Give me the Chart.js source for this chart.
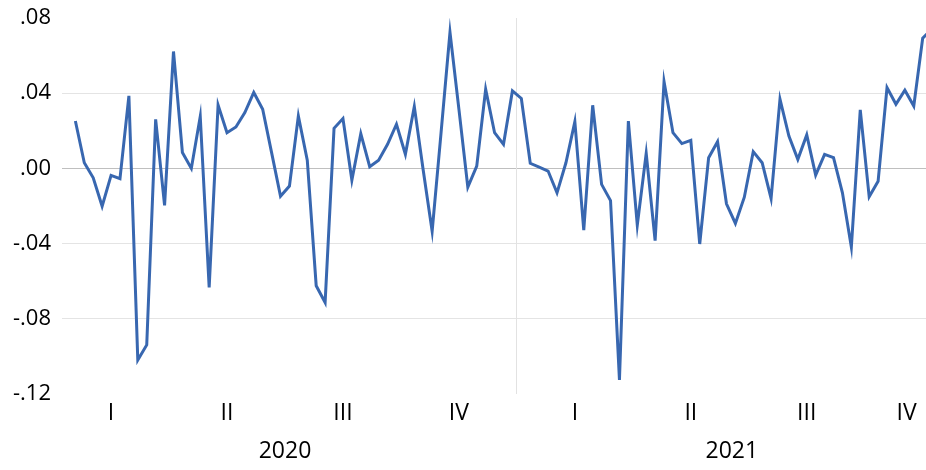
<!DOCTYPE html>
<html>
<head>
<meta charset="utf-8">
<script src="https://cdn.jsdelivr.net/npm/chart.js@4/dist/chart.umd.min.js"></script>
<style>
  html, body { margin: 0; padding: 0; background: #fff; }
  #wrap { width: 926px; height: 470px; }
</style>
</head>
<body>
<div id="wrap"><canvas id="chart"></canvas></div>
<script>
// Weekly values, first point is week 3 of 2020
const values = [
  0.0252, 0.0030, -0.0050, -0.0201, -0.0037, -0.0055, 0.0386, -0.1019, -0.0939, 0.0261,
  -0.0197, 0.0622, 0.0084, 0.0000, 0.0276, -0.0633, 0.0337, 0.0190, 0.0220, 0.0297,
  0.0404, 0.0315, 0.0084, -0.0148, -0.0094, 0.0279, 0.0044, -0.0624, -0.0713, 0.0213,
  0.0265, -0.0063, 0.0185, 0.0009, 0.0044, 0.0128, 0.0235, 0.0075, 0.0329, -0.0010,
  -0.0334, 0.0190, 0.0724, 0.0315, -0.0100, 0.0012, 0.0421, 0.0190, 0.0128, 0.0412,
  0.0372, 0.0027, 0.0007, -0.0014, -0.0130, 0.0030, 0.0249, -0.0329, 0.0336, -0.0085,
  -0.0171, -0.1125, 0.0252, -0.0302, 0.0080, -0.0384, 0.0462, 0.0190, 0.0132, 0.0149,
  -0.0402, 0.0057, 0.0142, -0.0188, -0.0293, -0.0153, 0.0089, 0.0030, -0.0160, 0.0368,
  0.0172, 0.0048, 0.0178, -0.0036, 0.0075, 0.0057, -0.0130, -0.0418, 0.0311, -0.0151,
  -0.0068, 0.0430, 0.0341, 0.0416, 0.0332, 0.0693, 0.0740
];
const firstWeek = 3;

// x axis labels (positions in weeks since start of 2020)
const quarterLabels = ['I', 'II', 'III', 'IV', 'I', 'II', 'III', 'IV'];
const quarterWeeks = [6.5, 19.5, 32.5, 45.5, 58.5, 71.5, 84.5, 95.7];
const yearLabels = ['2020', '2021'];
const yearWeeks = [26, 76.1];
const yearBoundary = 52;

// y axis ticks
const yMin = -0.12;
const yMax = 0.08;
const yStep = 0.04;

// plot each value at the middle of its week
const points = values.map((v, i) => ({ x: firstWeek + i - 0.5, y: v }));

const xMin = 1;
const xMax = 97.87;

function fmtY(v) {
  const s = Math.abs(v).toFixed(2).replace(/^0/, '');
  return (v < -1e-9 ? '-' : '') + s;
}

const quarterTicks = quarterWeeks.map((w, i) => ({ value: w, label: quarterLabels[i] }))
  .concat([{ value: yearBoundary, label: '' }])
  .sort((a, b) => a.value - b.value);

new Chart(document.getElementById('chart').getContext('2d'), {
  type: 'line',
  data: {
    datasets: [{
      data: points,
      borderColor: '#3867b0',
      borderWidth: 3,
      pointRadius: 0,
      tension: 0,
      fill: false
    }]
  },
  options: {
    responsive: true,
    maintainAspectRatio: false,
    animation: false,
    layout: { padding: { top: 18, right: 0, bottom: 0, left: 0 } },
    plugins: {
      legend: { display: false },
      tooltip: { enabled: false }
    },
    scales: {
      y: {
        min: yMin,
        max: yMax,
        border: { display: false },
        ticks: {
          stepSize: yStep,
          color: '#000',
          padding: 11,
          font: { family: 'Open Sans', size: 22 },
          callback: v => fmtY(v)
        },
        grid: {
          drawTicks: false,
          lineWidth: 1,
          color: ctx => {
            const v = ctx.tick.value;
            if (Math.abs(v) < 1e-9) return '#bfbfbf';
            if (Math.abs(v - yMax) < 1e-9 || Math.abs(v - yMin) < 1e-9) return 'rgba(0,0,0,0)';
            return '#e4e4e4';
          }
        },
        afterFit: scale => {
          scale.width = 62;
          scale.paddingTop = 0;
          scale.paddingBottom = 0;
        }
      },
      x: {
        type: 'linear',
        position: 'bottom',
        min: xMin,
        max: xMax,
        border: { display: false },
        afterBuildTicks: scale => { scale.ticks = quarterTicks.map(t => ({ value: t.value })); },
        ticks: {
          color: '#000',
          padding: 6,
          maxRotation: 0,
          autoSkip: false,
          font: { family: 'Open Sans', size: 23 },
          callback: v => {
            const t = quarterTicks.find(q => q.value === v);
            return t ? t.label : '';
          }
        },
        grid: {
          drawTicks: false,
          color: ctx => (ctx.tick && ctx.tick.value === yearBoundary) ? '#e2e2e2' : 'rgba(0,0,0,0)'
        },
        afterFit: scale => {
          scale.height = 38;
          scale.paddingLeft = 0;
          scale.paddingRight = 0;
        }
      },
      x2: {
        type: 'linear',
        position: 'bottom',
        min: xMin,
        max: xMax,
        border: { display: false },
        afterBuildTicks: scale => { scale.ticks = yearWeeks.map(w => ({ value: w })); },
        ticks: {
          color: '#000',
          padding: 6,
          maxRotation: 0,
          autoSkip: false,
          font: { family: 'Open Sans', size: 23 },
          callback: v => {
            const i = yearWeeks.indexOf(v);
            return i >= 0 ? yearLabels[i] : '';
          }
        },
        grid: { display: false, drawTicks: false },
        afterFit: scale => {
          scale.height = 38;
          scale.paddingLeft = 0;
          scale.paddingRight = 0;
        }
      }
    }
  }
});
</script>
</body>
</html>
